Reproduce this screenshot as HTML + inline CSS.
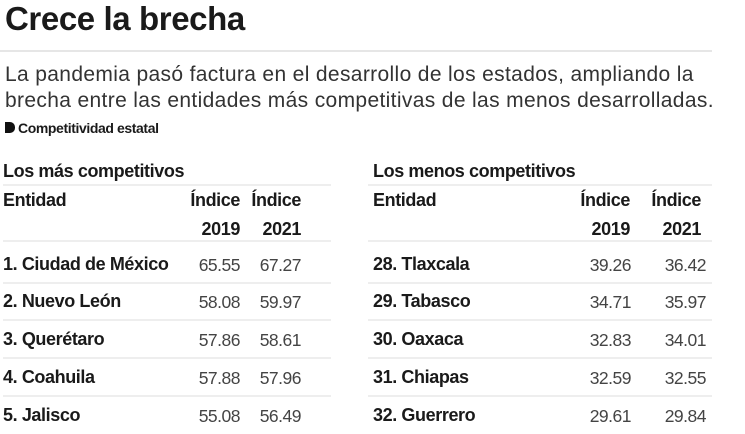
<!DOCTYPE html>
<html><head><meta charset="utf-8"><style>
body{margin:0;width:745px;height:434px;background:#fff;position:relative;overflow:hidden;font-family:"Liberation Sans",sans-serif;color:#1a1a1a}
.a{position:absolute;white-space:nowrap}
.t{font-weight:bold;font-size:33px;letter-spacing:-0.4px;left:5px;top:0px}
.d{font-size:21px;left:5px;letter-spacing:0.35px;color:#333}
.b{font-weight:bold;letter-spacing:-0.4px}
.h{font-size:18px}
.n{font-size:17.5px;color:#444;letter-spacing:-0.5px;text-align:right;width:70px}
.hn{font-weight:bold;font-size:18px;color:#1a1a1a;letter-spacing:-0.4px;text-align:right;width:70px}
.l{position:absolute;height:2px;background:#eee}
</style></head><body>
<div class="a t">Crece la brecha</div>
<div class="l" style="left:0;top:50px;width:712px;height:2px;background:#e6e6e6"></div>
<div class="a d" style="top:63px">La pandemia pasó factura en el desarrollo de los estados, ampliando la</div>
<div class="a d" style="top:89px">brecha entre las entidades más competitivas de las menos desarrolladas.</div>
<div class="a b" style="left:5px;top:120px;font-size:14px"><span style="display:inline-block;width:10px;height:11px;background:#111;border-radius:0 5px 5px 0;margin-right:3px"></span>Competitividad estatal</div>

<div class="a b h" style="left:3px;top:161px">Los más competitivos</div>
<div class="l" style="left:3px;top:184px;width:328px"></div>
<div class="a b h" style="left:3px;top:190px">Entidad</div>
<div class="a hn" style="left:170px;top:190px">Índice</div>
<div class="a hn" style="left:231px;top:190px">Índice</div>
<div class="a hn" style="left:170px;top:219px">2019</div>
<div class="a hn" style="left:231px;top:219px">2021</div>
<div class="l" style="left:3px;top:240px;width:328px"></div>

<div class="a b h" style="left:373px;top:161px">Los menos competitivos</div>
<div class="l" style="left:368px;top:184px;width:344px"></div>
<div class="a b h" style="left:373px;top:190px">Entidad</div>
<div class="a hn" style="left:560px;top:190px">Índice</div>
<div class="a hn" style="left:631px;top:190px">Índice</div>
<div class="a hn" style="left:560px;top:219px">2019</div>
<div class="a hn" style="left:631px;top:219px">2021</div>
<div class="l" style="left:368px;top:240px;width:344px"></div>

<div class="a b h" style="left:3px;top:254px">1. Ciudad de México</div>
<div class="a n" style="left:170px;top:255px">65.55</div><div class="a n" style="left:231px;top:255px">67.27</div>
<div class="l" style="left:3px;top:282px;width:328px"></div>
<div class="a b h" style="left:3px;top:291px">2. Nuevo León</div>
<div class="a n" style="left:170px;top:292px">58.08</div><div class="a n" style="left:231px;top:292px">59.97</div>
<div class="l" style="left:3px;top:319px;width:328px"></div>
<div class="a b h" style="left:3px;top:329px">3. Querétaro</div>
<div class="a n" style="left:170px;top:330px">57.86</div><div class="a n" style="left:231px;top:330px">58.61</div>
<div class="l" style="left:3px;top:357px;width:328px"></div>
<div class="a b h" style="left:3px;top:367px">4. Coahuila</div>
<div class="a n" style="left:170px;top:368px">57.88</div><div class="a n" style="left:231px;top:368px">57.96</div>
<div class="l" style="left:3px;top:395px;width:328px"></div>
<div class="a b h" style="left:3px;top:405px">5. Jalisco</div>
<div class="a n" style="left:170px;top:406px">55.08</div><div class="a n" style="left:231px;top:406px">56.49</div>

<div class="a b h" style="left:373px;top:254px">28. Tlaxcala</div>
<div class="a n" style="left:561px;top:255px">39.26</div><div class="a n" style="left:636px;top:255px">36.42</div>
<div class="l" style="left:368px;top:282px;width:344px"></div>
<div class="a b h" style="left:373px;top:291px">29. Tabasco</div>
<div class="a n" style="left:561px;top:292px">34.71</div><div class="a n" style="left:636px;top:292px">35.97</div>
<div class="l" style="left:368px;top:319px;width:344px"></div>
<div class="a b h" style="left:373px;top:329px">30. Oaxaca</div>
<div class="a n" style="left:561px;top:330px">32.83</div><div class="a n" style="left:636px;top:330px">34.01</div>
<div class="l" style="left:368px;top:357px;width:344px"></div>
<div class="a b h" style="left:373px;top:367px">31. Chiapas</div>
<div class="a n" style="left:561px;top:368px">32.59</div><div class="a n" style="left:636px;top:368px">32.55</div>
<div class="l" style="left:368px;top:395px;width:344px"></div>
<div class="a b h" style="left:373px;top:405px">32. Guerrero</div>
<div class="a n" style="left:561px;top:406px">29.61</div><div class="a n" style="left:636px;top:406px">29.84</div>
</body></html>
